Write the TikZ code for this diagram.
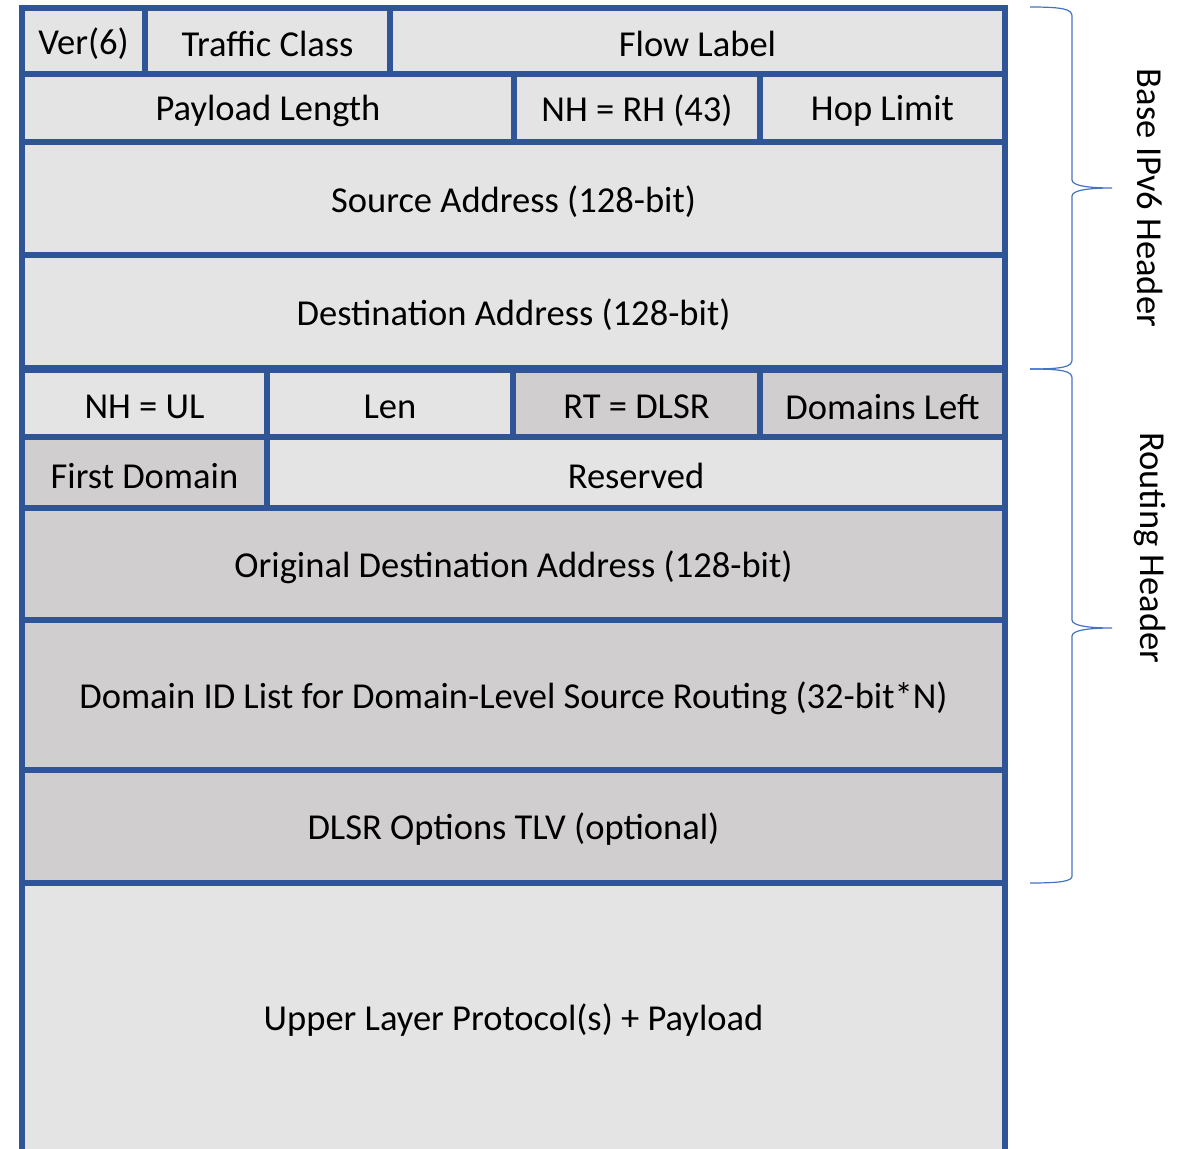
\documentclass[tikz,border=0pt]{standalone}
\usepackage{fontspec}
\setmainfont{Carlito}
\usetikzlibrary{fit}
\definecolor{lightcell}{HTML}{E4E4E4}
\definecolor{darkcell}{HTML}{D0CECE}
\definecolor{border}{HTML}{2F5597}
\definecolor{bracecol}{HTML}{4472C4}
\begin{document}
\begin{tikzpicture}[x=0.75pt,y=-0.75pt,
  cell/.style={draw=border, line width=3.8pt, inner sep=0pt, outer sep=0pt},
  lc/.style={cell, fill=lightcell},
  dc/.style={cell, fill=darkcell},
  txt/.style={label={[font=\fontsize{27.4}{32}\selectfont, text=black, inner sep=0pt, yshift=-2.3pt]center:#1}},
  bracestyle/.style={draw=bracecol, line width=0.9pt},
  side/.style={font=\fontsize{27.4}{32}\selectfont, rotate=-90, inner sep=0pt}]
\useasboundingbox (0,0) rectangle (1187,1148);
% row 1
\node[lc, fit={(22,8)(145,74)}, txt={Ver(6)}] (ver) {};
\node[lc, fit={(145,8)(390,74)}, txt={Traffic Class}] (tc) {};
\node[lc, fit={(390,8)(1005,74)}, txt={Flow Label}] (fl) {};
% row 2
\node[lc, fit={(22,74)(514,142)}, txt={Payload Length}] (pl) {};
\node[lc, fit={(514,74)(760,142)}, txt={NH = RH (43)}] (nh) {};
\node[lc, fit={(760,74)(1005,142)}, txt={Hop Limit}] (hl) {};
% addresses
\node[lc, fit={(22,142)(1005,255)}, txt={Source Address (128-bit)}] (src) {};
\node[lc, fit={(22,255)(1005,368)}, txt={Destination Address (128-bit)}] (dst) {};
% routing header
\node[lc, fit={(22,370)(267,437)}, txt={NH = UL}] (nhul) {};
\node[lc, fit={(267,370)(513,437)}, txt={Len}] (len) {};
\node[dc, fit={(513,370)(760,437)}, txt={RT = DLSR}] (rt) {};
\node[dc, fit={(760,370)(1005,437)}, txt={Domains Left}] (dl) {};
\node[dc, fit={(22,437)(267,508)}, txt={First Domain}] (fd) {};
\node[lc, fit={(267,437)(1005,508)}, txt={Reserved}] (res) {};
\node[dc, fit={(22,508)(1005,620)}, txt={Original Destination Address (128-bit)}] (odst) {};
\node[dc, fit={(22,620)(1005,770)}, txt={Domain ID List for Domain-Level Source Routing (32-bit*N)}] (dil) {};
\node[dc, fit={(22,770)(1005,883)}, txt={DLSR Options TLV (optional)}] (opt) {};
\node[lc, fit={(22,883)(1005,1152)}, txt={Upper Layer Protocol(s) + Payload}] (ulp) {};
% braces
\draw[bracestyle] (1030,7) .. controls (1062,7) and (1072,9) .. (1072,16)
  -- (1072,180) .. controls (1072,186) and (1090,188) .. (1112,188)
  .. controls (1090,188) and (1072,190) .. (1072,196)
  -- (1072,360) .. controls (1072,367) and (1062,369) .. (1030,369);
\draw[bracestyle] (1030,369) .. controls (1062,369) and (1072,371) .. (1072,378)
  -- (1072,620) .. controls (1072,626) and (1090,628) .. (1112,628)
  .. controls (1090,628) and (1072,630) .. (1072,636)
  -- (1072,876) .. controls (1072,881) and (1062,883) .. (1030,883);
\node[side] (base) at (1150,198) {Base IPv6 Header};
\node[side] (rh) at (1150,548) {Routing Header};
\end{tikzpicture}
\end{document}
